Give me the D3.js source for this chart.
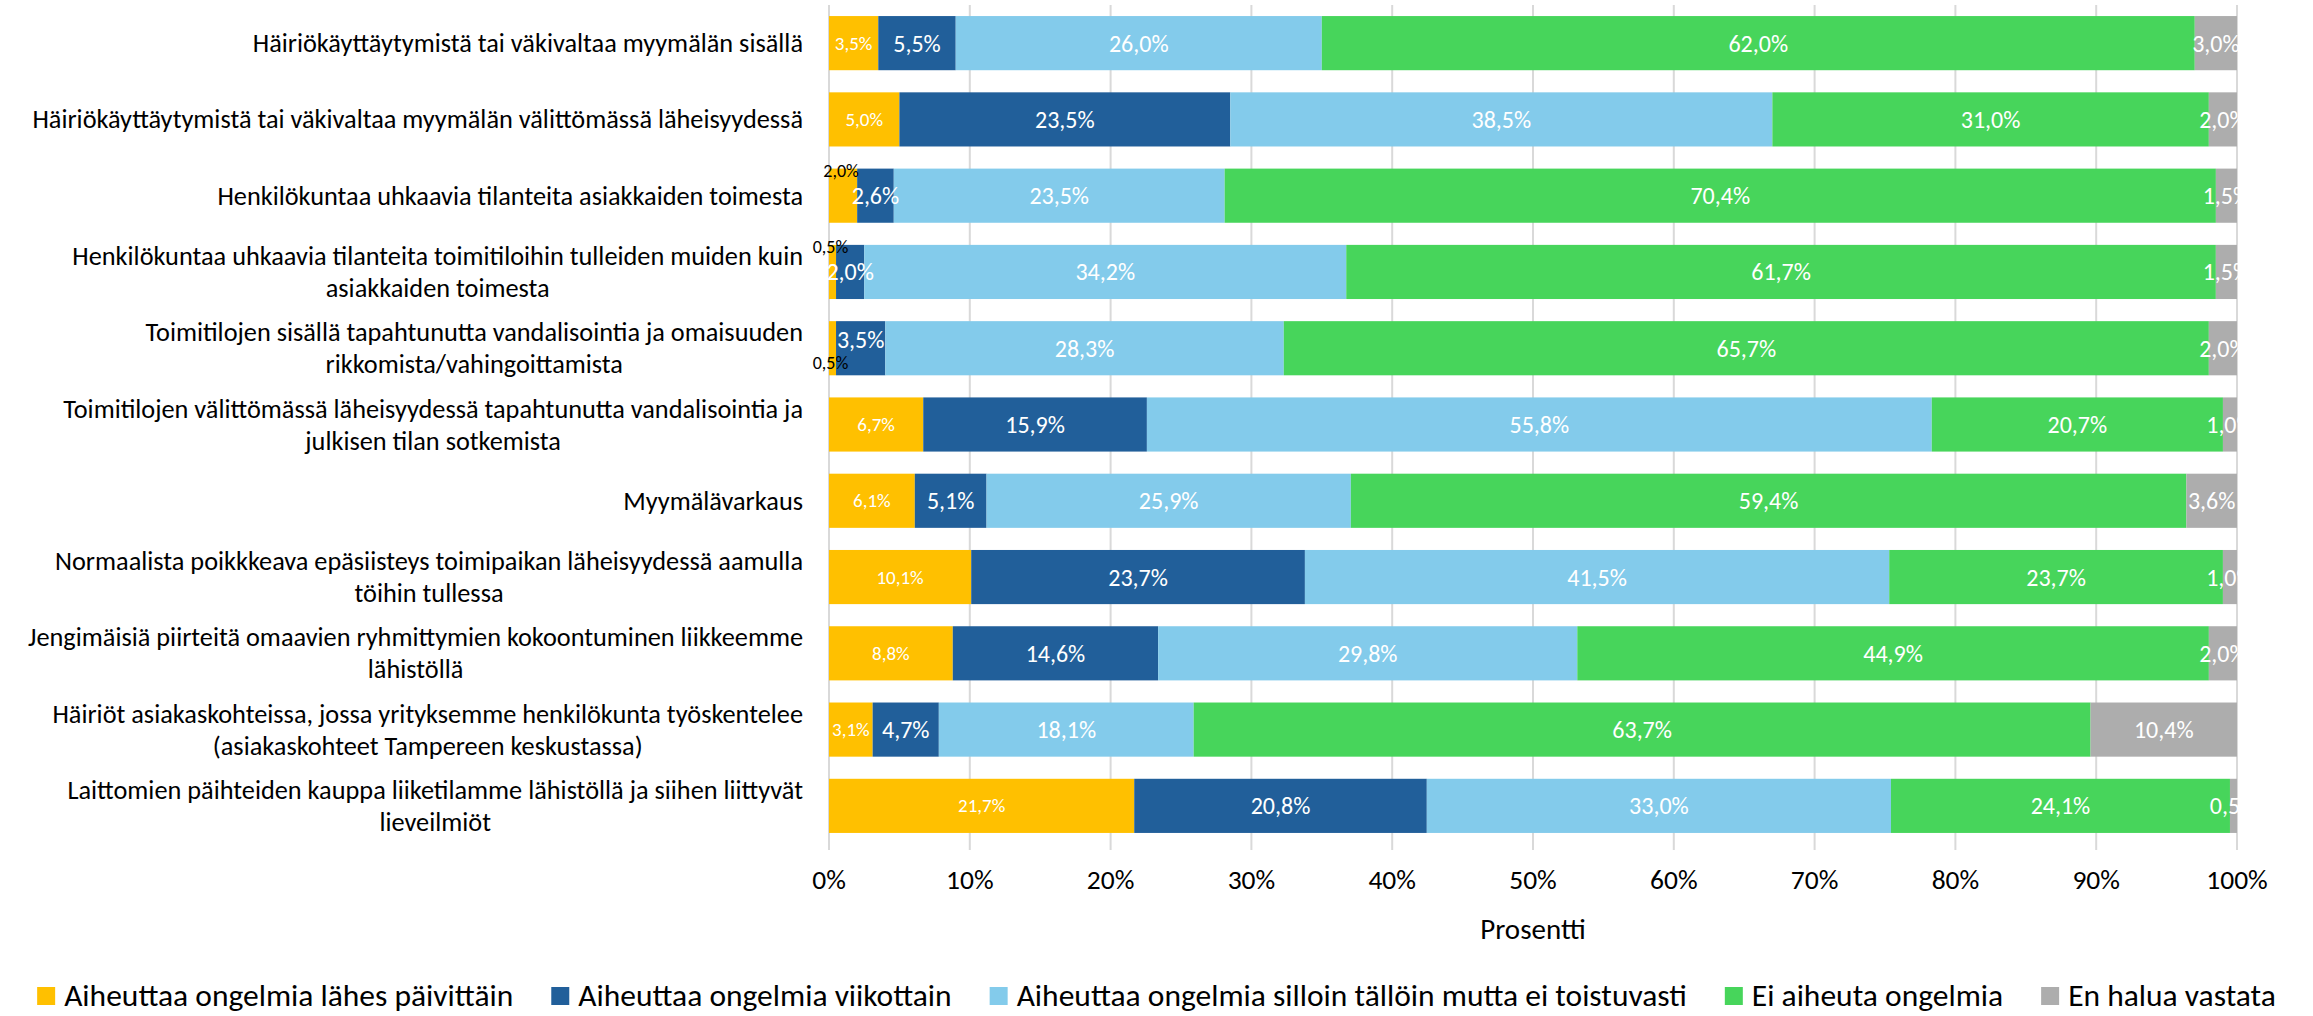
<!DOCTYPE html>
<html><head><meta charset="utf-8">
<script src="https://cdn.jsdelivr.net/npm/d3@7"></script>
<style>
body{margin:0;background:#fff}
svg text{font-family:Carlito,Calibri,Lato,"Noto Sans",sans-serif}
</style></head>
<body><svg id="c" width="2313" height="1016"></svg>
<script>
const categories = [
  "Häiriökäyttäytymistä tai väkivaltaa myymälän sisällä",
  "Häiriökäyttäytymistä tai väkivaltaa myymälän välittömässä läheisyydessä",
  "Henkilökuntaa uhkaavia tilanteita asiakkaiden toimesta",
  "Henkilökuntaa uhkaavia tilanteita toimitiloihin tulleiden muiden kuin\nasiakkaiden toimesta",
  "Toimitilojen sisällä tapahtunutta vandalisointia ja omaisuuden\nrikkomista/vahingoittamista",
  "Toimitilojen välittömässä läheisyydessä tapahtunutta vandalisointia ja\njulkisen tilan sotkemista",
  "Myymälävarkaus",
  "Normaalista poikkkeava epäsiisteys toimipaikan läheisyydessä aamulla\ntöihin tullessa",
  "Jengimäisiä piirteitä omaavien ryhmittymien kokoontuminen liikkeemme\nlähistöllä",
  "Häiriöt asiakaskohteissa, jossa yrityksemme henkilökunta työskentelee\n(asiakaskohteet Tampereen keskustassa)",
  "Laittomien päihteiden kauppa liiketilamme lähistöllä ja siihen liittyvät\nlieveilmiöt"
];
const seriesNames = [
  "Aiheuttaa ongelmia lähes päivittäin",
  "Aiheuttaa ongelmia viikottain",
  "Aiheuttaa ongelmia silloin tällöin mutta ei toistuvasti",
  "Ei aiheuta ongelmia",
  "En halua vastata"
];
const daily     = [3.5, 5.0, 2.0, 0.5, 0.5, 6.7, 6.1, 10.1, 8.8, 3.1, 21.7];
const weekly    = [5.5, 23.5, 2.6, 2.0, 3.5, 15.9, 5.1, 23.7, 14.6, 4.7, 20.8];
const sometimes = [26.0, 38.5, 23.5, 34.2, 28.3, 55.8, 25.9, 41.5, 29.8, 18.1, 33.0];
const never     = [62.0, 31.0, 70.4, 61.7, 65.7, 20.7, 59.4, 23.7, 44.9, 63.7, 24.1];
const noAnswer  = [3.0, 2.0, 1.5, 1.5, 2.0, 1.0, 3.6, 1.0, 2.0, 10.4, 0.5];
const xTicks = [0, 10, 20, 30, 40, 50, 60, 70, 80, 90, 100];
const xTitle = "Prosentti";

const colors = ["#FFC000", "#215F9A", "#83CBEB", "#47D55B", "#ADADAD"];
const seriesVals = [daily, weekly, sometimes, never, noAnswer];
const keys = ["s0","s1","s2","s3","s4"];
const rows = categories.map((c, i) => {
  const o = {cat: c, i};
  keys.forEach((k, j) => o[k] = seriesVals[j][i]);
  return o;
});
const stack = d3.stack().keys(keys).offset(d3.stackOffsetExpand)(rows);

const svg = d3.select("#c");
const x = d3.scaleLinear().domain([0, 1]).range([829, 2237]);
const y = d3.scaleBand().domain(d3.range(categories.length)).range([5, 844]).paddingInner(0.29).paddingOuter(0.145);

// gridlines
svg.append("g").selectAll("line").data(xTicks).join("line")
  .attr("x1", d => x(d/100)).attr("x2", d => x(d/100))
  .attr("y1", 5).attr("y2", 850)
  .attr("stroke", "#D9D9D9").attr("stroke-width", 2);

// bars
const gBars = svg.append("g");
stack.forEach((s, j) => {
  gBars.append("g").attr("fill", colors[j]).selectAll("rect").data(s).join("rect")
    .attr("x", d => x(d[0])).attr("width", d => x(d[1]) - x(d[0]))
    .attr("y", (d, i) => y(i)).attr("height", y.bandwidth());
});

// data labels
svg.append("defs").append("clipPath").attr("id", "clip")
  .append("rect").attr("x", 0).attr("y", 0).attr("width", x(1) + 4).attr("height", 1016);
const gLab = svg.append("g").attr("clip-path", "url(#clip)");
const fmt = v => v.toFixed(1).replace(".", ",") + "%";
const moved = {2: "above", 3: "above", 4: "below"}; // small first-series labels placed outside
stack.forEach((s, j) => {
  s.forEach((d, i) => {
    const v = seriesVals[j][i];
    let cx = (x(d[0]) + x(d[1])) / 2;
    let cy = y(i) + y.bandwidth() / 2;
    let fill = "#fff";
    let fs = j === 0 ? 19 : 24;
    if (j === 0 && moved[i]) {
      fill = "#000";
      fs = 18;
      cx = cx - 2;
      cy = moved[i] === "above" ? y(i) + 2 : y(i) + y.bandwidth() - 12;
    }
    if (j === 1 && moved[i] === "below") cy -= 9;
    gLab.append("text").attr("x", cx).attr("y", cy)
      .attr("text-anchor", "middle").attr("dominant-baseline", "central")
      .attr("font-size", fs).attr("fill", fill).text(fmt(v));
  });
});

// category labels
const gCat = svg.append("g");
categories.forEach((c, i) => {
  const lines = c.split("\n");
  const cy = y(i) + y.bandwidth() / 2;
  const lh = 32;
  const t = lines.map((ln, k) => gCat.append("text")
    .attr("y", cy + (k - (lines.length - 1) / 2) * lh)
    .attr("dominant-baseline", "central").attr("text-anchor", "middle")
    .attr("font-size", 26.3).attr("fill", "#000").text(ln));
  const maxW = d3.max(t, e => e.node().getComputedTextLength());
  t.forEach(e => e.attr("x", 803 - maxW / 2));
});

// x tick labels
svg.append("g").selectAll("text").data(xTicks).join("text")
  .attr("x", d => x(d/100)).attr("y", 879)
  .attr("text-anchor", "middle").attr("dominant-baseline", "central")
  .attr("font-size", 27.5).attr("fill", "#000").text(d => d + "%");
svg.append("text").attr("x", (x(0) + x(1)) / 2).attr("y", 929)
  .attr("text-anchor", "middle").attr("dominant-baseline", "central")
  .attr("font-size", 29).attr("fill", "#000").text(xTitle);

// legend
const gLeg = svg.append("g");
const ly = 995;
const items = seriesNames.map((n, j) => {
  const g = gLeg.append("g");
  g.append("rect").attr("width", 18).attr("height", 18).attr("y", ly - 8).attr("fill", colors[j]);
  const t = g.append("text").attr("x", 27).attr("y", ly).attr("dominant-baseline", "central")
    .attr("font-size", 31.5).attr("fill", "#000").text(n);
  return {g, w: 27 + t.node().getComputedTextLength()};
});
const gap = 38;
const total = d3.sum(items, d => d.w) + gap * (items.length - 1);
let cx0 = 2313 / 2 - total / 2;
items.forEach(it => { it.g.attr("transform", `translate(${cx0},0)`); cx0 += it.w + gap; });
</script>
</body></html>
